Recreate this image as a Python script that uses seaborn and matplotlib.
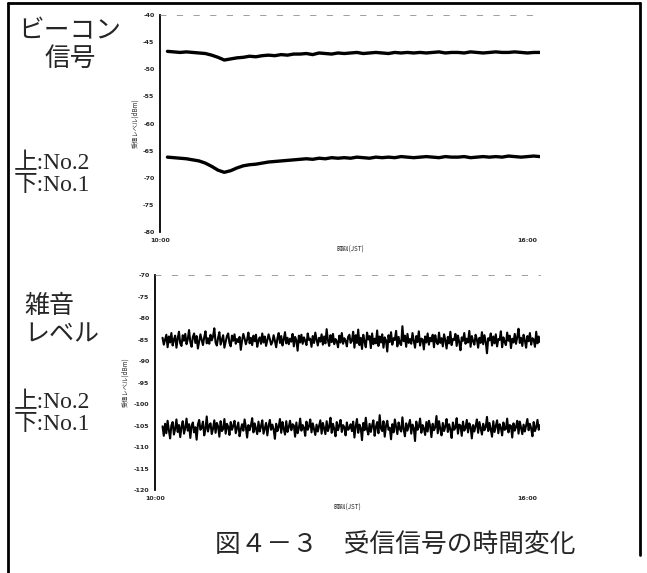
import numpy as np
import pandas as pd
import matplotlib
matplotlib.use("Agg")
import matplotlib.pyplot as plt
from matplotlib.lines import Line2D
import seaborn as sns

# ====================== DATA ======================
# beacon signal levels (dBm), upper = No.2, lower = No.1
beacon_no2 = [
    -46.7, -46.8, -46.9, -46.8, -46.9, -47.0, -47.1,
    -47.4, -47.8, -48.3, -48.1, -47.9, -47.8,
    -47.6, -47.7, -47.5, -47.4, -47.5, -47.3, -47.4, -47.2,
    -47.2, -47.1, -47.3, -47.0, -47.1, -47.2, -47.0, -47.1, -47.0, -46.9,
    -47.1, -47.0, -46.9, -47.0, -47.1, -46.9, -47.0, -46.9, -47.0, -46.9,
    -47.0, -46.9, -46.8, -47.0, -46.9, -46.9, -47.0, -46.8, -46.9, -47.0,
    -46.9, -46.8, -46.9, -46.9, -46.8, -46.9, -47.0, -46.9, -46.9,
]
beacon_no1 = [
    -66.2, -66.3, -66.4, -66.5, -66.7, -66.9, -67.3,
    -67.9, -68.6, -69.0, -68.7, -68.2, -67.8,
    -67.6, -67.5, -67.3, -67.1, -67.0, -66.9, -66.8, -66.7,
    -66.6, -66.5, -66.6, -66.4, -66.5, -66.3, -66.4, -66.3, -66.4, -66.2,
    -66.3, -66.4, -66.2, -66.3, -66.2, -66.3, -66.1, -66.2, -66.3, -66.2,
    -66.1, -66.2, -66.3, -66.1, -66.2, -66.2, -66.1, -66.3, -66.2, -66.1,
    -66.2, -66.1, -66.2, -66.0, -66.1, -66.2, -66.1, -66.0, -66.1,
]

# noise levels (dBm), upper = No.2, lower = No.1
noise_no2 = [
    -84.6, -86.2, -85.1, -83.9, -86.8, -84.3, -85.7, -83.5, -86.4, -85.0,
    -84.1, -86.9, -84.8, -83.2, -85.9, -86.5, -84.0, -85.3, -83.7, -86.1,
    -84.9, -82.8, -85.6, -86.7, -84.4, -83.6, -85.8, -84.2, -87.1, -85.4,
    -83.8, -85.0, -86.3, -84.5, -83.1, -85.9, -84.7, -86.0, -83.9, -85.2,
    -84.3, -82.4, -85.7, -86.4, -84.6, -83.3, -86.2, -85.1, -84.0, -86.9,
    -85.5, -84.2, -83.6, -85.8, -86.6, -84.1, -85.3, -83.8, -86.0, -84.9,
    -85.6, -84.4, -87.4, -85.2, -83.7, -84.8, -86.1, -85.0, -83.4, -85.9,
    -84.6, -86.3, -84.1, -85.4, -83.9, -86.7, -85.2, -84.5, -86.0, -83.6,
    -85.7, -84.3, -86.5, -85.1, -83.8, -84.9, -86.2, -85.6, -84.0, -85.3,
    -86.8, -84.7, -83.5, -85.8, -84.2, -86.4, -85.0, -83.3, -85.9, -84.6,
    -86.1, -84.8, -85.5, -83.7, -86.6, -84.4, -85.2, -87.6, -84.1, -85.7,
    -83.9, -86.0, -84.5, -85.3, -86.3, -83.6, -85.1, -84.8, -86.7, -84.2,
    -85.8, -83.4, -85.0, -86.4, -84.6, -85.5, -83.8, -86.2, -84.3, -85.9,
    -82.6, -85.2, -86.5, -84.0, -85.6, -83.7, -86.1, -84.9, -85.4, -86.8,
    -84.1, -85.7, -83.5, -86.0, -84.7, -85.3, -86.6, -84.4, -83.9, -85.8,
    -85.3, -83.2, -86.9, -84.0, -85.8, -82.7, -86.3, -84.6, -87.2, -83.9,
    -85.5, -86.8, -83.4, -85.0, -84.2, -87.0, -83.6, -86.1, -84.8, -85.9,
    -82.9, -86.5, -84.3, -85.7, -83.8, -86.9, -84.5, -85.2, -87.8, -84.0,
    -85.6, -83.3, -86.2, -84.7, -85.1, -83.0, -86.6, -84.4, -85.9, -86.3,
    -81.9, -85.4, -84.1, -86.7, -83.7, -85.8, -84.9, -86.0, -83.5, -85.3,
    -86.9, -84.2, -85.6, -83.1, -86.4, -84.8, -85.0, -87.3, -84.3, -85.7,
    -83.6, -86.2, -84.6, -85.4, -83.9, -86.8, -84.0, -85.5, -86.1, -83.4,
    -85.8, -84.7, -86.6, -83.8, -85.2, -87.1, -84.4, -85.9, -83.2, -86.3,
    -84.9, -85.1, -83.7, -86.5, -84.1, -85.6, -87.5, -84.5, -85.3, -83.5,
    -86.0, -84.8, -85.7, -83.0, -86.7, -84.2, -85.4, -86.2, -83.9, -85.0,
    -86.9, -84.6, -85.8, -83.3, -86.1, -84.0, -85.5, -88.2, -84.7, -85.2,
    -83.6, -86.4, -84.3, -85.9, -83.8, -86.6, -84.9, -85.1, -83.1, -86.8,
    -84.5, -85.6, -86.3, -83.4, -85.3, -84.1, -87.0, -84.8, -85.7, -83.7,
    -86.0, -84.4, -82.5, -85.8, -84.6, -86.5, -83.9, -85.2, -86.9, -84.2,
    -85.4, -83.5, -86.2, -84.7, -85.0, -86.7, -83.2, -85.9, -84.3, -85.6,
]
noise_no1 = [
    -105.2, -107.4, -104.6, -106.8, -103.9, -106.1, -108.0, -105.0, -104.2, -107.1,
    -105.8, -103.6, -106.5, -104.9, -107.7, -105.3, -104.0, -106.9, -105.6, -103.4,
    -106.2, -104.7, -107.9, -105.1, -104.3, -106.6, -105.4, -108.3, -104.8, -103.7,
    -106.0, -105.5, -104.1, -107.3, -105.9, -102.9, -106.4, -105.0, -104.5, -107.0,
    -105.7, -103.8, -106.7, -104.4, -105.2, -107.6, -104.0, -106.3, -105.8, -103.5,
    -106.9, -104.6, -105.3, -107.2, -104.2, -106.0, -105.1, -103.9, -106.8, -105.5,
    -104.3, -107.5, -105.9, -104.7, -106.2, -103.6, -105.4, -107.8, -104.9, -106.1,
    -105.0, -103.3, -106.6, -104.5, -105.7, -107.0, -104.1, -106.4, -105.2, -103.8,
    -106.9, -105.6, -104.4, -107.3, -105.1, -103.7, -106.0, -104.8, -105.9, -108.1,
    -104.6, -106.3, -105.3, -103.5, -106.7, -104.2, -105.8, -107.1, -104.0, -106.5,
    -105.4, -103.9, -106.1, -104.7, -105.0, -107.6, -104.3, -106.8, -105.6, -103.4,
    -106.2, -104.9, -105.5, -107.4, -104.1, -106.0, -105.2, -103.6, -106.6, -104.5,
    -105.9, -107.2, -104.8, -106.4, -105.1, -103.8, -106.9, -104.4, -105.7, -107.0,
    -104.0, -106.3, -105.3, -103.2, -106.7, -104.6, -105.8, -107.5, -104.2, -106.1,
    -105.0, -103.7, -106.5, -104.9, -105.4, -107.3, -104.3, -106.0, -105.6, -104.7,
    -106.3, -104.1, -107.8, -105.2, -103.5, -106.7, -104.8, -105.6, -108.4, -104.4,
    -106.1, -103.2, -105.9, -107.1, -104.6, -106.5, -105.0, -103.8, -107.4, -105.4,
    -104.2, -106.8, -102.6, -105.7, -106.3, -104.0, -107.6, -105.1, -103.9, -106.0,
    -105.5, -108.2, -104.7, -106.6, -103.6, -105.3, -107.0, -104.3, -105.8, -106.4,
    -103.1, -105.9, -107.5, -104.5, -106.2, -105.0, -103.7, -106.9, -104.8, -105.6,
    -108.6, -104.1, -106.0, -105.3, -103.4, -106.7, -104.9, -105.7, -107.2, -104.2,
    -106.4, -103.9, -105.1, -107.7, -104.6, -106.1, -105.4, -102.8, -106.8, -104.0,
    -105.8, -107.3, -104.4, -106.3, -105.2, -103.5, -106.5, -104.7, -105.9, -107.9,
    -104.3, -106.0, -105.5, -103.3, -106.9, -104.8, -105.0, -107.4, -104.1, -106.2,
    -105.6, -103.7, -106.6, -104.5, -105.3, -108.0, -104.9, -106.4, -105.1, -103.6,
    -106.7, -104.2, -105.7, -107.1, -104.6, -106.1, -105.4, -103.0, -106.3, -104.4,
    -105.9, -107.6, -104.0, -106.5, -105.2, -103.8, -106.8, -104.7, -105.5, -107.3,
    -104.3, -106.0, -105.8, -103.4, -106.6, -104.9, -105.1, -107.8, -104.5, -106.2,
    -105.3, -103.9, -106.9, -104.1, -105.6, -107.0, -104.8, -106.4, -105.0, -103.5,
    -106.1, -104.6, -105.7, -107.5, -104.2, -106.3, -105.4, -103.7, -106.0, -104.9,
]

beacon_yticks = [-40, -45, -50, -55, -60, -65, -70, -75, -80]
noise_yticks = [-70, -75, -80, -85, -90, -95, -100, -105, -110, -115, -120]
time_labels = ["10:00", "16:00"]

# ====================== STYLE ======================
sns.set_style("white")
plt.rcParams['font.family'] = ['Liberation Serif', 'Noto Sans CJK JP', 'DejaVu Sans']
JP = ['Noto Sans CJK JP', 'DejaVu Sans']

fig = plt.figure(figsize=(6.47, 5.73), dpi=100)
W, H = 647, 573


def px_axes(left, top, right, bottom):
    return fig.add_axes([left / W, 1 - bottom / H, (right - left) / W, (bottom - top) / H])


def style_axes(ax, yticks, n):
    ax.set_ylim(yticks[-1], yticks[0])
    ax.set_yticks(yticks)
    ax.set_yticklabels([str(t) for t in yticks], fontsize=4.5, fontweight='bold',
                       family='DejaVu Sans')
    ax.set_xlim(0, n - 1)
    ax.set_xticks([-(n - 1) * 0.02, (n - 1) * 0.965])
    ax.set_xticklabels(time_labels, fontsize=4.5, fontweight='bold', family='DejaVu Sans')
    ax.tick_params(axis='both', length=0, pad=4)
    for s in ['right', 'bottom']:
        ax.spines[s].set_visible(False)
    ax.spines['left'].set_linewidth(1.3)
    ax.spines['left'].set_color('black')
    ax.spines['top'].set_linestyle((0, (8, 16)))
    ax.spines['top'].set_linewidth(0.5)
    ax.spines['top'].set_color('#777777')
    ax.set_xlabel("時刻(JST)", fontsize=4.5, family=JP, labelpad=2)
    ax.set_ylabel("受信レベル(dBm)", fontsize=4.5, family=JP, labelpad=3)
    ax.set_facecolor('none')


# ====================== 1. Beacon signal ======================
ax1 = px_axes(160, 15, 540, 232)
for vals in [beacon_no2, beacon_no1]:
    sns.lineplot(x=np.arange(len(vals)), y=vals, ax=ax1, color='black', linewidth=2.4)
style_axes(ax1, beacon_yticks, len(beacon_no2))

# ====================== 2. Noise level ======================
ax2 = px_axes(155, 275, 540, 490)
for vals in [noise_no2, noise_no1]:
    sns.lineplot(x=np.arange(len(vals)), y=vals, ax=ax2, color='black', linewidth=1.5)
style_axes(ax2, noise_yticks, len(noise_no2))

# ====================== labels / caption ======================
fig.text(70 / W, 1 - 45 / H, "ビーコン\n信号", family=JP, fontsize=18.5,
         ha='center', va='center', multialignment='center', linespacing=1.1)
fig.text(14 / W, 1 - 175 / H, "上:No.2\n下:No.1", fontsize=17,
         ha='left', va='center', linespacing=1.05)
fig.text(24 / W, 1 - 320 / H, "雑音\nレベル", family=JP, fontsize=18,
         ha='left', va='center', linespacing=1.1)
fig.text(14 / W, 1 - 414 / H, "上:No.2\n下:No.1", fontsize=17,
         ha='left', va='center', linespacing=1.05)
fig.text(395 / W, 1 - 545 / H, "図４－３　受信信号の時間変化", family=JP, fontsize=18.5,
         ha='center', va='center')

# outer frame
frame = dict(color='black', linewidth=2.0, transform=fig.transFigure)
fig.add_artist(Line2D([8 / W, 8 / W], [0, 1 - 3 / H], **frame))
fig.add_artist(Line2D([8 / W, 640 / W], [1 - 3 / H, 1 - 3 / H], **frame))
fig.add_artist(Line2D([640 / W, 640 / W], [1 - 3 / H, 1 - 555 / H], **frame))

fig.savefig("out.png", dpi=100)
plt.close(fig)
